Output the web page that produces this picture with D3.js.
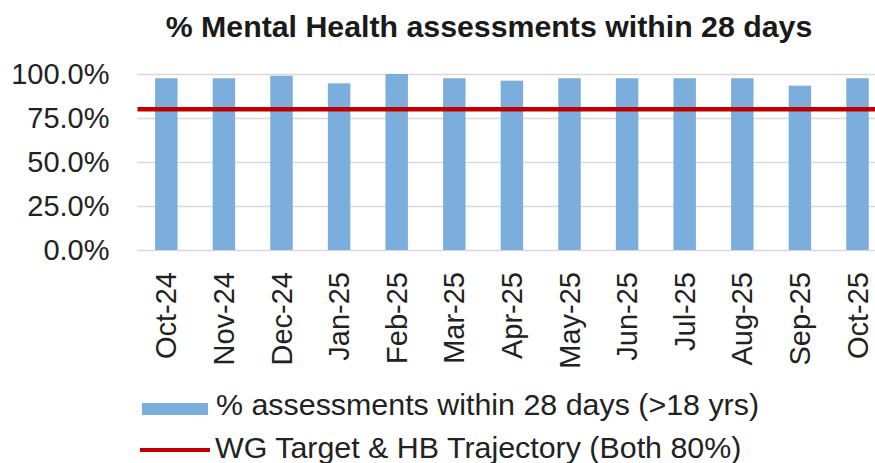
<!DOCTYPE html>
<html>
<head>
<meta charset="utf-8">
<style>
  body { margin: 0; background: #fff; }
  svg  { display: block; font-family: "Liberation Sans", Arial, sans-serif; }
  .tick text { fill: #222; }
</style>
</head>
<body>
<script src="https://cdn.jsdelivr.net/npm/d3@7/dist/d3.min.js"></script>
<script>

// Data
var months = ["Oct-24", "Nov-24", "Dec-24", "Jan-25", "Feb-25", "Mar-25", "Apr-25",
              "May-25", "Jun-25", "Jul-25", "Aug-25", "Sep-25", "Oct-25"];
var assessPct = [0.976, 0.976, 0.990, 0.947, 1.000, 0.976, 0.962,
                 0.976, 0.976, 0.976, 0.976, 0.934, 0.976];
var targetPct = 0.80;
var yTicks = [0, 0.25, 0.5, 0.75, 1];
var title = "% Mental Health assessments within 28 days";
var legendLabels = ["% assessments within 28 days (>18 yrs)",
                    "WG Target & HB Trajectory (Both 80%)"];

var W = 875, H = 463;
var plot = {left: 137.5, right: 886.3, top: 74, bottom: 250};
var barColor = "#7CAEDD", lineColor = "#C00000", gridColor = "#D9D9D9";

var svg = d3.select("body").append("svg")
    .attr("width", W)
    .attr("height", H);

var x = d3.scaleBand()
    .domain(months)
    .range([plot.left, plot.right])
    .paddingInner(0.61)
    .paddingOuter(0.305);

var y = d3.scaleLinear()
    .domain([0, 1])
    .range([plot.bottom, plot.top]);

// title
svg.append("text")
    .attr("x", 489)
    .attr("y", 36.5)
    .attr("text-anchor", "middle")
    .style("font-size", "30.3px")
    .style("font-weight", "bold")
    .style("fill", "#1a1a1a")
    .text(title);

// y axis + gridlines
var yAxis = svg.append("g")
    .attr("transform", `translate(${plot.left},0)`)
    .call(d3.axisLeft(y)
        .tickValues(yTicks)
        .tickSize(-(W - plot.left))
        .tickPadding(28)
        .tickFormat(d3.format(".1%")));
yAxis.select(".domain").remove();
yAxis.selectAll(".tick line")
    .attr("stroke", gridColor)
    .attr("stroke-width", 1.5);
yAxis.selectAll(".tick text")
    .style("font-size", "29px");

// bars
svg.selectAll(".bar")
    .data(assessPct)
  .enter().append("rect")
    .attr("class", "bar")
    .attr("x", (d, i) => x(months[i]))
    .attr("y", d => y(d))
    .attr("width", x.bandwidth())
    .attr("height", d => y(0) - y(d))
    .attr("fill", barColor);

// target line
svg.append("line")
    .attr("x1", plot.left)
    .attr("x2", W)
    .attr("y1", y(targetPct))
    .attr("y2", y(targetPct))
    .attr("stroke", lineColor)
    .attr("stroke-width", 4.5);

// x axis, labels rotated
var xAxis = svg.append("g")
    .attr("transform", `translate(0,${plot.bottom})`)
    .call(d3.axisBottom(x).tickSize(0));
xAxis.select(".domain").remove();
xAxis.selectAll(".tick text")
    .attr("transform", "rotate(-90)")
    .attr("text-anchor", "end")
    .attr("x", -22)
    .attr("y", 0)
    .attr("dy", "0.35em")
    .style("font-size", "29px");

// legend
var legend = svg.append("g");
legend.append("rect")
    .attr("x", 142).attr("y", 403)
    .attr("width", 66).attr("height", 12)
    .attr("fill", barColor);
legend.append("text")
    .attr("x", 216).attr("y", 414.5)
    .style("font-size", "30.4px")
    .style("fill", "#222")
    .text(legendLabels[0]);
legend.append("line")
    .attr("x1", 140).attr("x2", 210)
    .attr("y1", 450).attr("y2", 450)
    .attr("stroke", lineColor)
    .attr("stroke-width", 4);
legend.append("text")
    .attr("x", 215).attr("y", 458)
    .style("font-size", "30.4px")
    .style("fill", "#222")
    .text(legendLabels[1]);

</script>
</body>
</html>
